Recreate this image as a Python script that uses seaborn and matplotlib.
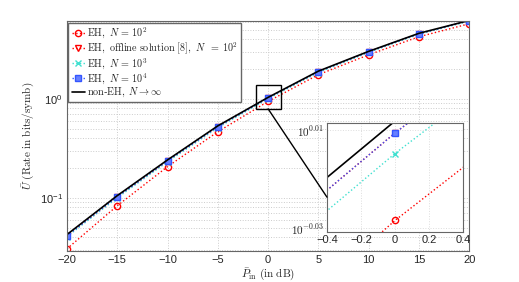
import numpy as np
import pandas as pd
import seaborn as sns
from matplotlib import pyplot as plt
from matplotlib.patches import Rectangle, ConnectionPatch
import matplotlib.ticker as mticker

sns.set_style('whitegrid')
plt.rcParams['font.family'] = ['Liberation Sans', 'DejaVu Sans']
plt.rcParams['mathtext.fontset'] = 'cm'

# data (rate vs input power)
p_db = [-20, -15, -10, -5, 0, 5, 10, 15, 20]
eh_n2 = [0.0305, 0.083, 0.206, 0.464, 0.940, 1.75, 2.78, 4.23, 5.72]
eh_offline_n2 = [0.0413, 0.1023, 0.236, 0.521, 1.0205, 1.875, 2.98, 4.54, 6.14]
eh_n3 = [0.0405, 0.100, 0.231, 0.511, 1.001, 1.84, 2.94, 4.49, 6.08]
eh_n4 = [0.0413, 0.1023, 0.236, 0.521, 1.0205, 1.875, 2.98, 4.54, 6.14]
non_eh = [0.0425, 0.105, 0.241, 0.532, 1.032, 1.90, 3.01, 4.58, 6.18]

df = pd.DataFrame({'P': p_db, 'eh2': eh_n2, 'off': eh_offline_n2,
                   'eh3': eh_n3, 'eh4': eh_n4, 'ne': non_eh})

series = [
    ('eh2', r'$\mathrm{EH},\ N\,=\,10^2$', 'red', ':', 'o', 'none'),
    ('off', r'$\mathrm{EH,\ offline\ solution\ [8]},\ N\ \ =\,10^2$', 'red', ':', 'v', 'none'),
    ('eh3', r'$\mathrm{EH},\ N\,=\,10^3$', '#40e0d0', ':', 'x', 'none'),
    ('eh4', r'$\mathrm{EH},\ N\,=\,10^4$', '#3355ff', ':', 's', '#6680ff'),
    ('ne', r'$\mathrm{non}$-$\mathrm{EH},\ N\rightarrow\infty$', 'black', '-', None, 'none'),
]

fig = plt.figure(figsize=(5.19, 2.82), dpi=100)
ax = fig.add_axes([0.129, 0.110, 0.775, 0.8155])
axin = fig.add_axes([0.630, 0.177, 0.262, 0.387])

for a in (ax, axin):
    for col, lab, c, ls, mk, mfc in series:
        lw = 1.2 if col == 'ne' else 1.0
        sns.lineplot(data=df, x='P', y=col, ax=a, color=c, linestyle=ls, marker=mk,
                     markersize=4.5, markerfacecolor=mfc, markeredgecolor=c,
                     markeredgewidth=1.0, linewidth=lw, label=lab if a is ax else None,
                     legend=False)

ax.set_yscale('log')
ax.set_xlim(-20, 20)
ax.set_ylim(0.029, 6.1)
ax.set_xticks(range(-20, 21, 5))
ax.grid(True, which='major', color='#cccccc', linestyle=':', linewidth=0.7)
ax.grid(True, which='minor', color='#cccccc', linestyle=':', linewidth=0.7)
ax.tick_params(labelsize=8, length=0, pad=3)
for s in ax.spines.values():
    s.set_color('#666666')
    s.set_linewidth(0.8)
ax.set_xlabel(r'$\bar{P}_{\mathrm{in}}\ \mathrm{(in\ dB)}$', fontsize=8, labelpad=1)
ax.set_ylabel(r'$\bar{U}\ \mathrm{(Rate\ in\ bits/symb)}$', fontsize=8, labelpad=2)

handles, labels = ax.get_legend_handles_labels()
leg = ax.legend(handles, labels, loc='upper left', fontsize=7.3, handlelength=1.3,
                handletextpad=0.2, labelspacing=0.0, borderpad=0.3, borderaxespad=0.15,
                fancybox=False, framealpha=1)
leg.get_frame().set_edgecolor('#666666')
leg.get_frame().set_linewidth(1.0)

# inset
axin.set_yscale('log')
axin.set_xlim(-0.4, 0.4)
axin.set_ylim(10 ** -0.0316, 10 ** 0.0129)
axin.set_xticks([-0.4, -0.2, 0, 0.2, 0.4])
axin.xaxis.set_major_formatter(mticker.FuncFormatter(lambda v, p: f'{v:g}'.replace('-', '\u2212')))
axin.yaxis.set_major_locator(mticker.FixedLocator([10 ** -0.03, 10 ** 0.01]))
axin.yaxis.set_major_formatter(mticker.FixedFormatter([r'$10^{-0.03}$', r'$10^{0.01}$']))
axin.yaxis.set_minor_locator(mticker.NullLocator())
axin.set_xlabel('')
axin.set_ylabel('')
axin.grid(True, color='#dddddd', linestyle=':', linewidth=0.7)
axin.tick_params(labelsize=8, length=0, pad=2)
for s in axin.spines.values():
    s.set_color('#666666')
    s.set_linewidth(0.8)

# zoom box and connector
ax.add_patch(Rectangle((-1.2, 0.792), 2.5, 1.38 - 0.792, fill=False,
                       edgecolor='black', linewidth=1.0, zorder=5))
con = ConnectionPatch(xyA=(0.0, 0.792), coordsA=ax.transData,
                      xyB=(0.0, 0.32), coordsB=axin.transAxes,
                      color='black', linewidth=1.0)
fig.add_artist(con)

plt.savefig('out.png', dpi=100)
plt.close()
